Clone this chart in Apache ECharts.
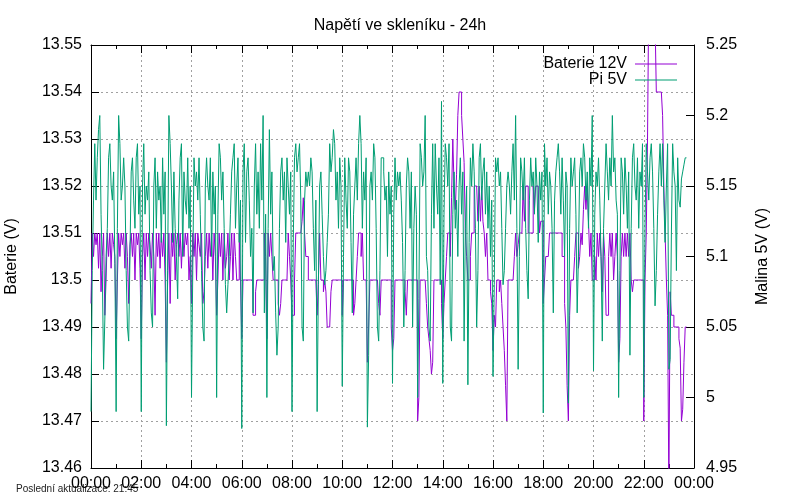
<!DOCTYPE html>
<html>
<head>
<meta charset="utf-8">
<title>Napětí ve skleníku - 24h</title>
<script src="https://cdn.jsdelivr.net/npm/echarts@6/dist/echarts.min.js"></script>
<style>
  html, body { margin: 0; padding: 0; background: #fff; }
  #chart { width: 800px; height: 500px; }
</style>
</head>
<body>
<div id="chart"></div>
<script>
// vzorky po 3 minutach od 00:00 (jeden radek = jedna hodina)
const startMinute = 0;
const stepMinutes = 3;

// Baterie 12V (leva osa)
const baterie12V = [
  13.495, 13.51, 13.505, 13.51, 13.5075, 13.51, 13.5025, 13.51, 13.4975, 13.505, 13.51, 13.4925, 13.5, 13.51, 13.505, 13.51, 13.5025, 13.51, 13.5075, 13.505,
  13.4875, 13.5, 13.51, 13.505, 13.51, 13.5075, 13.51, 13.5025, 13.51, 13.505, 13.495, 13.5075, 13.51, 13.505, 13.51, 13.5, 13.51, 13.5075, 13.51, 13.5025,
  13.4875, 13.505, 13.51, 13.5, 13.51, 13.505, 13.51, 13.5075, 13.5025, 13.51, 13.505, 13.4925, 13.51, 13.505, 13.51, 13.5025, 13.51, 13.505, 13.51, 13.5,
  13.4825, 13.5, 13.51, 13.495, 13.51, 13.505, 13.51, 13.5, 13.5075, 13.51, 13.505, 13.51, 13.5025, 13.51, 13.505, 13.51, 13.5075, 13.51, 13.5, 13.505,
  13.495, 13.51, 13.505, 13.51, 13.5, 13.51, 13.5075, 13.505, 13.51, 13.495, 13.4975, 13.505, 13.51, 13.5025, 13.51, 13.505, 13.51, 13.5, 13.51, 13.505,
  13.4925, 13.5, 13.51, 13.505, 13.51, 13.5, 13.51, 13.5025, 13.505, 13.51, 13.5, 13.505, 13.51, 13.5, 13.51, 13.505, 13.5, 13.5, 13.51, 13.5,
  13.4875, 13.5, 13.5, 13.5, 13.5, 13.5, 13.5, 13.5, 13.5, 13.4925, 13.4925, 13.4975, 13.5, 13.5, 13.5, 13.5, 13.5, 13.5, 13.51, 13.505,
  13.4875, 13.51, 13.505, 13.51, 13.505, 13.5, 13.5, 13.5, 13.5, 13.495, 13.4925, 13.495, 13.5, 13.5, 13.5, 13.5, 13.5, 13.51, 13.505, 13.5,
  13.4925, 13.4925, 13.5, 13.51, 13.51, 13.51, 13.51, 13.51, 13.5125, 13.5175, 13.51, 13.505, 13.505, 13.5, 13.5, 13.5, 13.5, 13.5, 13.5, 13.5,
  13.4925, 13.5, 13.51, 13.5, 13.5, 13.4975, 13.5, 13.4975, 13.49, 13.49, 13.49, 13.4975, 13.5, 13.5, 13.5, 13.5, 13.5, 13.5, 13.5, 13.5,
  13.4925, 13.5, 13.5, 13.5, 13.5, 13.5, 13.5, 13.5, 13.5, 13.4925, 13.495, 13.5, 13.505, 13.51, 13.51, 13.505, 13.51, 13.5, 13.5, 13.5,
  13.4825, 13.49, 13.5, 13.5, 13.5, 13.5, 13.5, 13.5, 13.5, 13.495, 13.4925, 13.5, 13.5, 13.5, 13.5, 13.5, 13.5, 13.5, 13.5, 13.49,
  13.485, 13.4875, 13.5, 13.5, 13.5, 13.5, 13.5, 13.5, 13.5, 13.5, 13.4975, 13.4925, 13.5, 13.5, 13.5, 13.5, 13.5, 13.5, 13.5, 13.5,
  13.47, 13.475, 13.5, 13.5, 13.5, 13.5, 13.5, 13.495, 13.49, 13.4875, 13.485, 13.48, 13.4825, 13.5, 13.5, 13.5, 13.5, 13.5, 13.5, 13.495,
  13.4875, 13.495, 13.5, 13.505, 13.51, 13.51, 13.505, 13.5175, 13.53, 13.52, 13.515, 13.5225, 13.535, 13.54, 13.54, 13.535, 13.53, 13.525, 13.51, 13.505,
  13.5, 13.5, 13.505, 13.51, 13.51, 13.52, 13.52, 13.52, 13.5125, 13.52, 13.5125, 13.52, 13.5125, 13.51, 13.505, 13.51, 13.5, 13.5, 13.4975, 13.495,
  13.485, 13.4925, 13.49, 13.5, 13.5, 13.4975, 13.5, 13.495, 13.49, 13.485, 13.4775, 13.47, 13.5, 13.5, 13.5, 13.5, 13.5, 13.505, 13.51, 13.505,
  13.5075, 13.51, 13.51, 13.51, 13.52, 13.5125, 13.52, 13.52, 13.51, 13.51, 13.51, 13.51, 13.52, 13.515, 13.52, 13.52, 13.52, 13.51, 13.5125, 13.5125,
  13.495, 13.5, 13.505, 13.505, 13.505, 13.51, 13.51, 13.51, 13.51, 13.51, 13.51, 13.51, 13.51, 13.51, 13.51, 13.505, 13.505, 13.495, 13.49, 13.4775,
  13.47, 13.4925, 13.5, 13.5, 13.5, 13.505, 13.51, 13.51, 13.5025, 13.505, 13.51, 13.5075, 13.515, 13.52, 13.515, 13.52, 13.5125, 13.505, 13.51, 13.5,
  13.5, 13.505, 13.5, 13.51, 13.505, 13.51, 13.505, 13.4975, 13.51, 13.505, 13.4925, 13.4925, 13.505, 13.51, 13.505, 13.51, 13.5, 13.505, 13.51, 13.505,
  13.4825, 13.4875, 13.505, 13.51, 13.505, 13.51, 13.505, 13.51, 13.505, 13.51, 13.5, 13.4975, 13.5, 13.5, 13.5, 13.5, 13.5, 13.5, 13.5, 13.5,
  13.47, 13.5, 13.51, 13.53, 13.56, 13.56, 13.555, 13.56, 13.56, 13.555, 13.54, 13.54, 13.54, 13.54, 13.54, 13.535, 13.52, 13.51, 13.5, 13.4925,
  13.455, 13.4975, 13.4925, 13.4925, 13.49, 13.49, 13.49, 13.49, 13.4875, 13.4855, 13.47, 13.4725, 13.4825, 13.49, 13.49
];

// Pi 5V (prava osa)
const pi5V = [
  4.99, 5.09, 5.14, 5.18, 5.14, 5.17, 5.19, 5.2, 5.13, 5.09, 5.02, 5.055, 5.1, 5.12, 5.17, 5.18, 5.15, 5.14, 5.16, 5.095,
  4.99, 5.12, 5.2, 5.18, 5.14, 5.15, 5.17, 5.15, 5.09, 5.05, 5.04, 5.1, 5.16, 5.17, 5.14, 5.12, 5.17, 5.18, 5.13, 5.15,
  4.99, 5.15, 5.18, 5.13, 5.15, 5.14, 5.16, 5.09, 5.06, 5.05, 5.15, 5.17, 5.12, 5.16, 5.14, 5.15, 5.11, 5.17, 5.13, 5.16,
  4.98, 5.09, 5.2, 5.18, 5.15, 5.11, 5.16, 5.12, 5.1, 5.07, 5.14, 5.17, 5.18, 5.1, 5.16, 5.14, 5.13, 5.17, 5.12, 5.15,
  5.0, 5.09, 5.17, 5.15, 5.16, 5.14, 5.17, 5.13, 5.09, 5.05, 5.04, 5.15, 5.17, 5.15, 5.14, 5.17, 5.1, 5.16, 5.13, 5.15,
  5.0, 5.13, 5.18, 5.17, 5.14, 5.16, 5.12, 5.08, 5.06, 5.08, 5.1, 5.13, 5.16, 5.17, 5.18, 5.12, 5.15, 5.17, 5.11, 5.14,
  4.978, 5.16, 5.18, 5.11, 5.16, 5.17, 5.14, 5.1, 5.12, 5.06, 5.15, 5.18, 5.13, 5.16, 5.12, 5.18, 5.14, 5.2, 5.06, 5.13,
  5.0, 5.12, 5.19, 5.13, 5.16, 5.09, 5.1, 5.06, 5.03, 5.05, 5.12, 5.16, 5.17, 5.14, 5.16, 5.11, 5.17, 5.15, 5.13, 5.16,
  4.99, 5.11, 5.17, 5.18, 5.16, 5.17, 5.18, 5.14, 5.05, 5.04, 5.14, 5.16, 5.15, 5.16, 5.15, 5.17, 5.16, 5.12, 5.09, 5.14,
  4.99, 5.08, 5.15, 5.16, 5.13, 5.1, 5.08, 5.09, 5.11, 5.13, 5.18, 5.16, 5.17, 5.19, 5.18, 5.14, 5.16, 5.12, 5.17, 5.15,
  5.008, 5.1, 5.17, 5.14, 5.12, 5.17, 5.16, 5.11, 5.06, 5.13, 5.15, 5.17, 5.14, 5.18, 5.2, 5.18, 5.12, 5.16, 5.14, 5.17,
  4.979, 5.03, 5.15, 5.16, 5.14, 5.18, 5.17, 5.12, 5.05, 5.04, 5.09, 5.17, 5.17, 5.16, 5.14, 5.15, 5.1, 5.16, 5.13, 5.15,
  5.01, 5.13, 5.17, 5.14, 5.16, 5.15, 5.16, 5.14, 5.11, 5.05, 5.09, 5.15, 5.17, 5.16, 5.12, 5.16, 5.05, 5.12, 5.15, 5.13,
  5.0, 5.07, 5.18, 5.17, 5.15, 5.16, 5.2, 5.1, 5.09, 5.05, 5.04, 5.13, 5.18, 5.12, 5.18, 5.15, 5.13, 5.17, 5.08, 5.21,
  5.01, 5.13, 5.18, 5.17, 5.15, 5.18, 5.05, 5.04, 5.13, 5.16, 5.12, 5.14, 5.1, 5.15, 5.17, 5.13, 5.16, 5.04, 5.12, 5.15,
  5.009, 5.11, 5.17, 5.15, 5.18, 5.16, 5.12, 5.05, 5.09, 5.17, 5.18, 5.14, 5.16, 5.17, 5.13, 5.16, 5.12, 5.15, 5.1, 5.14,
  5.015, 5.08, 5.17, 5.16, 5.17, 5.15, 5.16, 5.12, 5.08, 5.09, 5.12, 5.15, 5.16, 5.15, 5.13, 5.16, 5.18, 5.14, 5.2, 5.12,
  5.02, 5.1, 5.17, 5.16, 5.14, 5.17, 5.12, 5.09, 5.07, 5.14, 5.17, 5.15, 5.16, 5.13, 5.17, 5.15, 5.11, 5.16, 5.14, 5.16,
  4.989, 5.18, 5.15, 5.17, 5.13, 5.16, 5.15, 5.12, 5.06, 5.14, 5.16, 5.17, 5.18, 5.16, 5.13, 5.17, 5.14, 5.1, 5.16, 5.15,
  4.996, 5.12, 5.17, 5.15, 5.16, 5.17, 5.13, 5.06, 5.1, 5.16, 5.17, 5.15, 5.18, 5.17, 5.14, 5.16, 5.12, 5.17, 5.15, 5.2,
  5.019, 5.13, 5.16, 5.15, 5.17, 5.14, 5.1, 5.04, 5.12, 5.15, 5.18, 5.16, 5.14, 5.17, 5.15, 5.2, 5.16, 5.17, 5.14, 5.13,
  5.0, 5.09, 5.17, 5.16, 5.13, 5.17, 5.15, 5.12, 5.16, 5.03, 5.12, 5.17, 5.18, 5.15, 5.14, 5.17, 5.12, 5.16, 5.15, 5.18,
  5.0, 5.12, 5.18, 5.16, 5.14, 5.17, 5.18, 5.16, 5.12, 5.065, 5.09, 5.13, 5.16, 5.18, 5.15, 5.18, 5.14, 5.11, 5.15, 5.18,
  5.02, 5.027, 5.116, 5.18, 5.16, 5.15, 5.09, 5.17, 5.14, 5.135, 5.155, 5.16, 5.165, 5.17, 5.17
];

const posledniAktualizace = '21:45';

const fontFamily = '"Liberation Sans", Arial, sans-serif';
const gridColor = '#a0a0a0';

function toPairs(values) {
  return values.map((v, i) => [startMinute + i * stepMinutes, v]);
}

// 13.50 -> "13.5", 5.00 -> "5" (jako gnuplot)
function trimNumber(v) {
  return String(parseFloat(v.toFixed(3)));
}

function timeLabel(v) {
  const h = Math.floor(v / 60) % 24;
  return (h < 10 ? '0' : '') + h + ':00';
}

const chart = echarts.init(document.getElementById('chart'), null, { renderer: 'canvas' });

chart.setOption({
  backgroundColor: '#fff',
  animation: false,
  textStyle: { fontFamily: fontFamily },
  title: {
    text: 'Napětí ve skleníku - 24h',
    left: 'center',
    top: 13,
    textStyle: { fontSize: 16, fontWeight: 'normal', color: '#000', fontFamily: fontFamily }
  },
  legend: {
    orient: 'vertical',
    align: 'right',
    right: 118,
    top: 51,
    icon: 'rect',
    itemWidth: 42,
    itemHeight: 1,
    itemGap: 0,
    selectedMode: false,
    textStyle: { fontSize: 16, color: '#000', fontFamily: fontFamily, lineHeight: 14, padding: [0, 3, 0, 0] },
    data: ['Baterie 12V', 'Pi 5V']
  },
  grid: { left: 91, right: 106, top: 45, bottom: 32, containLabel: false, outerBoundsMode: 'none' },
  xAxis: [
    {
      type: 'value',
      min: 0,
      max: 1440,
      interval: 120,
      axisLine: { show: true, onZero: false, lineStyle: { color: '#000', width: 1 } },
      axisTick: { show: true, inside: true, length: 8, lineStyle: { color: '#000' } },
      minorTick: { show: true, splitNumber: 2, length: 4, lineStyle: { color: '#000' } },
      axisLabel: { color: '#000', fontSize: 16, margin: 8, formatter: timeLabel, fontFamily: fontFamily },
      splitLine: { show: true, lineStyle: { color: gridColor, type: [2, 3], width: 1 } }
    },
    {
      type: 'value',
      position: 'top',
      min: 0,
      max: 1440,
      interval: 120,
      axisLine: { show: true, onZero: false, lineStyle: { color: '#000', width: 1 } },
      axisTick: { show: true, inside: true, length: 8, lineStyle: { color: '#000' } },
      minorTick: { show: true, splitNumber: 2, length: 4, lineStyle: { color: '#000' } },
      axisLabel: { show: false },
      splitLine: { show: false }
    }
  ],
  yAxis: [
    {
      type: 'value',
      position: 'left',
      min: 13.46,
      max: 13.55,
      interval: 0.01,
      name: 'Baterie (V)',
      nameLocation: 'middle',
      nameRotate: 90,
      nameGap: 71,
      nameTextStyle: { fontSize: 16, color: '#000', fontFamily: fontFamily },
      axisLine: { show: true, onZero: false, lineStyle: { color: '#000', width: 1 } },
      axisTick: { show: true, inside: true, length: 8, lineStyle: { color: '#000' } },
      axisLabel: { color: '#000', fontSize: 16, margin: 9, formatter: trimNumber, fontFamily: fontFamily },
      splitLine: { show: true, lineStyle: { color: gridColor, type: [2, 3], width: 1 } }
    },
    {
      type: 'value',
      position: 'right',
      min: 4.95,
      max: 5.25,
      interval: 0.05,
      name: 'Malina 5V (V)',
      nameLocation: 'middle',
      nameRotate: 90,
      nameGap: 61,
      nameTextStyle: { fontSize: 16, color: '#000', fontFamily: fontFamily },
      axisLine: { show: true, onZero: false, lineStyle: { color: '#000', width: 1 } },
      axisTick: { show: true, inside: true, length: 8, lineStyle: { color: '#000' } },
      axisLabel: { color: '#000', fontSize: 16, margin: 12, formatter: trimNumber, fontFamily: fontFamily },
      splitLine: { show: false }
    }
  ],
  series: [
    {
      name: 'Baterie 12V',
      type: 'line',
      xAxisIndex: 0,
      yAxisIndex: 0,
      step: 'end',
      symbol: 'none',
      clip: true,
      color: '#9400d3',
      lineStyle: { color: '#9400d3', width: 1 },
      data: toPairs(baterie12V)
    },
    {
      name: 'Pi 5V',
      type: 'line',
      xAxisIndex: 0,
      yAxisIndex: 1,
      step: 'end',
      symbol: 'none',
      clip: true,
      color: '#009e73',
      lineStyle: { color: '#009e73', width: 1 },
      data: toPairs(pi5V)
    }
  ],
  graphic: [
    {
      type: 'text',
      left: 16,
      top: 484,
      style: {
        text: 'Poslední aktualizace: ' + posledniAktualizace,
        fontSize: 10,
        fill: '#222',
        fontFamily: fontFamily
      }
    }
  ]
});
</script>
</body>
</html>
